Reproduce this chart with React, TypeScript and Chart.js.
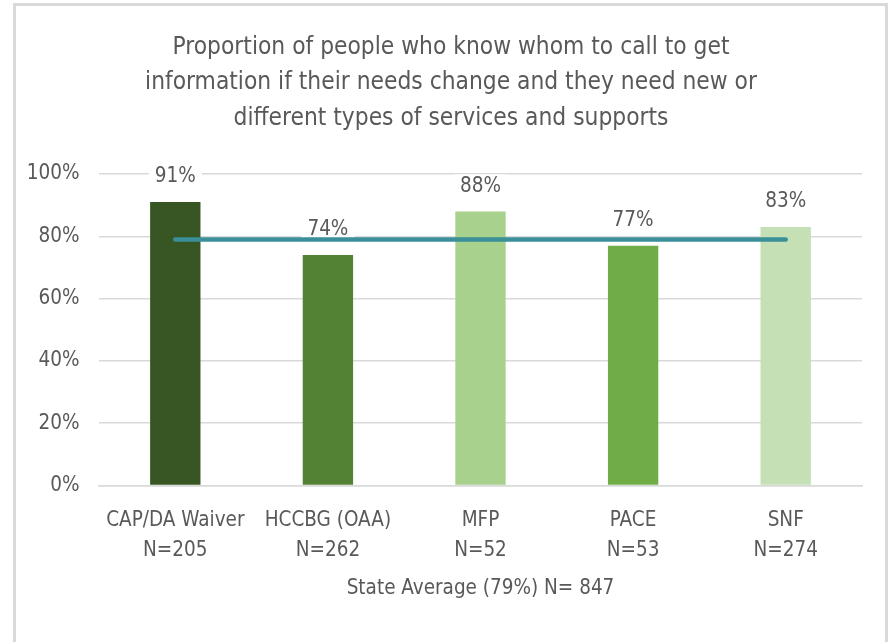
import React, { useEffect, useRef } from "react";
import { Chart, registerables } from "chart.js";

Chart.register(...registerables);

const categories: string[][] = [
  ["CAP/DA Waiver", "N=205"],
  ["HCCBG (OAA)", "N=262"],
  ["MFP", "N=52"],
  ["PACE", "N=53"],
  ["SNF", "N=274"],
];
const values: number[] = [91, 74, 88, 77, 83];
const barColors: string[] = ["#375623", "#548235", "#A9D18E", "#70AD47", "#C5E0B4"];
const stateAverage: number[] = [79, 79, 79, 79, 79];
const titleLines: string[] = [
  "Proportion of people who know whom to call to get",
  "information if their needs change and they need new or",
  "different types of services and supports",
];
const xAxisTitle = "State Average (79%) N= 847";

const FONT = '"Liberation Sans Narrow", "DejaVu Sans Condensed", "Open Sans", sans-serif';
const GRAY = "#595959";

const textPlugin = {
  id: "texts",
  beforeDatasetsDraw(chart: any) {
    const ctx = chart.ctx;
    const meta = chart.getDatasetMeta(1);
    ctx.save();
    ctx.font = `20.5px ${FONT}`;
    ctx.textAlign = "center";
    ctx.textBaseline = "middle";
    meta.data.forEach((bar: any, i: number) => {
      const label = values[i] + "%";
      const w = ctx.measureText(label).width + 12;
      const cy = bar.y - 25;
      ctx.fillStyle = "#ffffff";
      ctx.fillRect(bar.x - w / 2, cy - 12, w, 24);
      ctx.fillStyle = GRAY;
      ctx.fillText(label, bar.x, cy);
    });
    ctx.restore();
  },
  afterDraw(chart: any) {
    const ctx = chart.ctx;
    ctx.save();
    ctx.fillStyle = GRAY;
    ctx.textAlign = "center";
    ctx.textBaseline = "middle";
    ctx.font = `24.3px ${FONT}`;
    titleLines.forEach((t, i) => ctx.fillText(t, 451, 47.5 + i * 35.5));
    ctx.font = `20.5px ${FONT}`;
    const a = chart.chartArea;
    ctx.fillText(xAxisTitle, (a.left + a.right) / 2, 589);
    ctx.restore();
  },
};

export default function App() {
  const ref = useRef<HTMLCanvasElement>(null);
  useEffect(() => {
    if (!ref.current) return;
    const chart = new Chart(ref.current, {
      type: "bar",
      data: {
        labels: categories,
        datasets: [
          {
            type: "line",
            data: stateAverage,
            borderColor: "#3A8F99",
            borderWidth: 4.5,
            borderCapStyle: "round",
            pointRadius: 0,
            order: 0,
          } as any,
          {
            type: "bar",
            data: values,
            backgroundColor: barColors,
            barPercentage: 0.33,
            categoryPercentage: 1,
            order: 1,
          },
        ],
      },
      options: {
        responsive: false,
        animation: false,
        events: [],
        layout: { padding: { left: 0, right: 30, top: 174, bottom: 0 } },
        plugins: { legend: { display: false }, tooltip: { enabled: false }, title: { display: false } },
        scales: {
          x: {
            grid: { display: false, drawTicks: false },
            border: { color: "#D9D9D9", width: 1.5 },
            ticks: { color: GRAY, font: { family: FONT, size: 20.5, lineHeight: 1.5 }, padding: 19.5, maxRotation: 0, autoSkip: false },
            afterFit: (s: any) => { s.height = 156.5; },
          },
          y: {
            min: 0,
            max: 100,
            grid: { color: "#D9D9D9", lineWidth: 1.5, drawTicks: false },
            border: { display: false },
            ticks: { stepSize: 20, color: GRAY, font: { family: FONT, size: 20.5 }, padding: 19.5, callback: (v: any) => v + "%" },
            afterFit: (s: any) => { s.width = 99; },
          },
        },
      },
      plugins: [textPlugin],
    });
    return () => chart.destroy();
  }, []);
  return (
    <div style={{ position: "fixed", left: 0, top: 0, width: 892, height: 642, background: "#fff" }}>
      <canvas ref={ref} width={892} height={642} style={{ position: "absolute", left: 0, top: 0 }} />
      <div style={{ position: "absolute", left: 13, top: 3, width: 875, height: 700, boxSizing: "border-box", border: "3px solid #D9D9D9", pointerEvents: "none" }} />
    </div>
  );
}
